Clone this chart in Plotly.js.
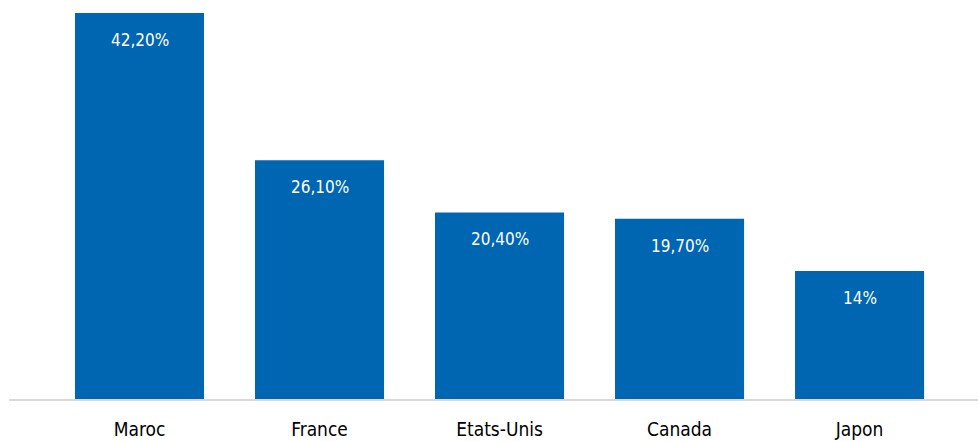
<!DOCTYPE html>
<html>
<head>
<meta charset="utf-8">
<script src="https://cdn.plot.ly/plotly-3.0.1.min.js"></script>
<style>html,body{margin:0;padding:0;background:#fff;}#chart{width:978px;height:441px;}</style>
</head>
<body>
<div id="chart"></div>
<script>
const categories = ["Maroc", "France", "Etats-Unis", "Canada", "Japon"];
const values = [42.2, 26.1, 20.4, 19.7, 14];
const valueLabels = ["42,20%", "26,10%", "20,40%", "19,70%", "14%"];

const FONT = "'Liberation Sans Narrow', 'DejaVu Sans Condensed', 'Arial Narrow', sans-serif";
const BLUE = "#0066B2";

const trace = {
  type: "bar",
  x: categories,
  y: values,
  width: categories.map(() => 0.717),
  marker: {color: BLUE},
  hoverinfo: "skip"
};

const annotations = categories.map((c, i) => ({
  x: c, y: values[i], xref: "x", yref: "y",
  text: valueLabels[i], showarrow: false,
  yanchor: "top", yshift: -15,
  font: {family: FONT, size: 17, color: "#ffffff"}
}));

const layout = {
  width: 978, height: 441,
  margin: {l: 9, r: 0, t: 0, b: 42},
  paper_bgcolor: "#ffffff", plot_bgcolor: "#ffffff",
  showlegend: false,
  xaxis: {
    type: "category",
    range: [-0.725, 4.658],
    showgrid: false, zeroline: false,
    showline: true, linecolor: "#d9d9d9", linewidth: 2,
    ticks: "", ticklabelstandoff: 12,
    tickfont: {family: FONT, size: 19, color: "#000000"}
  },
  yaxis: {
    range: [0, 43.62],
    showgrid: false, zeroline: false, showline: false,
    showticklabels: false, ticks: ""
  },
  annotations: annotations
};

Plotly.newPlot("chart", [trace], layout, {displayModeBar: false, staticPlot: true});
</script>
</body>
</html>
